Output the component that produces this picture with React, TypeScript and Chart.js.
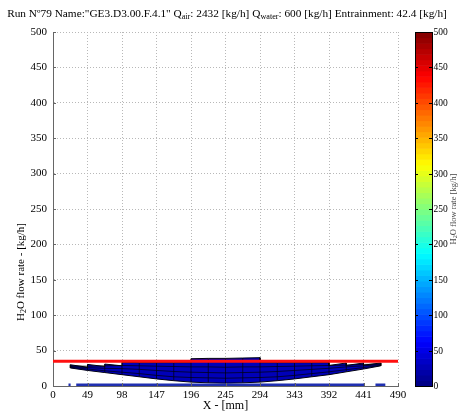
import React, { useEffect, useRef } from "react";
import { Chart, registerables } from "chart.js";

Chart.register(...registerables);

// ---- data ----
const xTicks = [0, 49, 98, 147, 196, 245, 294, 343, 392, 441, 490];
const yTicks = [0, 50, 100, 150, 200, 250, 300, 350, 400, 450, 500];
const colorbarTicks = [0, 50, 100, 150, 200, 250, 300, 350, 400, 450, 500];

const surfaceX = [24.5, 49, 73.5, 98, 122.5, 147, 171.5, 196, 220.5, 245, 269.5, 294, 318.5, 343, 367.5, 392, 416.5, 441, 465.5];
const surfaceBottom = [25.5, 22, 19, 16, 13, 10, 7.5, 5.5, 4.5, 4, 4.5, 5.5, 7.5, 10, 13, 16, 20, 24, 28.5];
const surfaceTopStart = [30, 30.5, 31, 33.5, 33, 33, 33, 38.5, 39, 39, 39.5, 33, 33, 33, 33, 29, 29, 29.5];
const surfaceTopEnd = [26.5, 27.5, 28.5, 33, 33, 33, 33, 39, 39, 39.5, 40, 33, 33, 33, 33, 32.5, 32.5, 32.5];
const meshRowA = [26.5, 24, 21.5, 19.5, 17.5, 15, 13, 12, 11.5, 11, 11.5, 12, 13, 15, 17.5, 20, 23, 26, 29];
const meshRowB = [27.5, 26, 25, 24.5, 23.5, 22, 20.5, 19.5, 19, 18.5, 19, 19.5, 20.5, 22, 23.5, 25, 27, 28.5, 30];
const meshRowC = [28.5, 28, 28.5, 29, 28.5, 28, 27.5, 27, 27, 26.5, 27, 27, 27.5, 28, 28.5, 29, 29.5, 30.5, 31];

const entrainmentX = [0, 490];
const entrainmentLevel = [35, 35];

const baseSegments = [[22, 25], [33, 443], [458, 472]];
const baseLevel = 1.5;

const titleParts = [
  { t: 'Run N\u00BA79 Name:"GE3.D3.00.F.4.1" Q', sub: false },
  { t: "air", sub: true },
  { t: ": 2432 [kg/h] Q", sub: false },
  { t: "water", sub: true },
  { t: ": 600 [kg/h] Entrainment: 42.4 [kg/h]", sub: false },
];

const SERIF = "'Liberation Serif', 'Times New Roman', serif";

function jet(t: number): string {
  const c = (v: number) => Math.round(255 * Math.max(0, Math.min(1, v)));
  const r = c(1.5 - Math.abs(4 * t - 3));
  const g = c(1.5 - Math.abs(4 * t - 2));
  const b = c(1.5 - Math.abs(4 * t - 1));
  return `rgb(${r},${g},${b})`;
}

function drawSubText(ctx: CanvasRenderingContext2D, parts: { t: string; sub: boolean }[], x: number, y: number, size: number, measureOnly = false): number {
  let cx = x;
  for (const p of parts) {
    const s = p.sub ? size * 0.72 : size;
    ctx.font = `${s}px ${SERIF}`;
    if (!measureOnly) ctx.fillText(p.t, cx, p.sub ? y + size * 0.28 : y);
    cx += ctx.measureText(p.t).width;
  }
  return cx - x;
}

const decorPlugin = {
  id: "decor",
  afterDraw(chart: any) {
    const ctx: CanvasRenderingContext2D = chart.ctx;
    const { top, bottom, left, right } = chart.chartArea;
    const ys = chart.scales.y;
    const xs = chart.scales.x;
    ctx.save();

    // inward tick marks on main axes
    ctx.strokeStyle = "#666";
    ctx.lineWidth = 1;
    for (const v of yTicks) {
      const py = Math.round(ys.getPixelForValue(v)) + 0.5;
      ctx.beginPath();
      ctx.moveTo(left, py);
      ctx.lineTo(left + 3, py);
      ctx.stroke();
    }
    for (const v of xTicks) {
      const px = Math.round(xs.getPixelForValue(v)) + 0.5;
      ctx.beginPath();
      ctx.moveTo(px, bottom);
      ctx.lineTo(px, bottom - 3);
      ctx.stroke();
    }

    // colorbar
    const cbL = right + 17;
    const cbW = 17;
    const n = 64;
    const vmax = colorbarTicks[colorbarTicks.length - 1];
    for (let i = 0; i < n; i++) {
      const p0 = ys.getPixelForValue((i / n) * vmax);
      const p1 = ys.getPixelForValue(((i + 1) / n) * vmax);
      ctx.fillStyle = jet((i + 0.5) / n);
      ctx.fillRect(cbL, p1, cbW, p0 - p1 + 0.6);
    }
    ctx.strokeStyle = "#000";
    ctx.strokeRect(cbL + 0.5, top + 0.5, cbW, bottom - top);
    ctx.fillStyle = "#000";
    ctx.font = `9.5px ${SERIF}`;
    ctx.textAlign = "left";
    ctx.textBaseline = "middle";
    for (const v of colorbarTicks) {
      const py = Math.round(ys.getPixelForValue(v)) + 0.5;
      ctx.beginPath();
      ctx.moveTo(cbL + cbW - 3, py);
      ctx.lineTo(cbL + cbW + 1, py);
      ctx.moveTo(cbL, py);
      ctx.lineTo(cbL + 3, py);
      ctx.stroke();
      ctx.fillText(String(v), cbL + cbW + 1.5, py);
    }

    // colorbar label
    ctx.save();
    ctx.translate(453.5, 209);
    ctx.rotate(-Math.PI / 2);
    ctx.fillStyle = "#444";
    ctx.textBaseline = "middle";
    const cbParts = [{ t: "H", sub: false }, { t: "2", sub: true }, { t: "O flow rate [kg/h]", sub: false }];
    const wcb = drawSubText(ctx, cbParts, 0, 0, 8.5, true);
    drawSubText(ctx, cbParts, -wcb / 2, 0, 8.5);
    ctx.restore();

    // y axis title
    ctx.save();
    ctx.translate(21, 272);
    ctx.rotate(-Math.PI / 2);
    ctx.fillStyle = "#000";
    ctx.textBaseline = "middle";
    const yParts = [{ t: "H", sub: false }, { t: "2", sub: true }, { t: "O flow rate - [kg/h]", sub: false }];
    const wy = drawSubText(ctx, yParts, 0, 0, 11, true);
    drawSubText(ctx, yParts, -wy / 2, 0, 11);
    ctx.restore();

    // title
    ctx.fillStyle = "#000";
    ctx.textBaseline = "middle";
    ctx.textAlign = "left";
    const target = 440;
    const w12 = drawSubText(ctx, titleParts, 0, 0, 12, true);
    const size = (12 * target) / w12;
    const wt = drawSubText(ctx, titleParts, 0, 0, size, true);
    drawSubText(ctx, titleParts, 227 - wt / 2, 14, size);

    ctx.restore();
  },
};

export default function App() {
  const ref = useRef<HTMLCanvasElement | null>(null);

  useEffect(() => {
    if (!ref.current) return;

    const surface: { x: number; y: number }[] = [];
    for (let i = 0; i < surfaceX.length - 1; i++) {
      surface.push({ x: surfaceX[i], y: surfaceTopStart[i] });
      surface.push({ x: surfaceX[i + 1], y: surfaceTopEnd[i] });
    }
    for (let j = surfaceX.length - 1; j >= 0; j--) surface.push({ x: surfaceX[j], y: surfaceBottom[j] });
    surface.push({ ...surface[0] });

    const verticals: { x: number; y: number | null }[] = [];
    for (let i = 0; i < surfaceX.length; i++) {
      const a = i < surfaceTopStart.length ? surfaceTopStart[i] : -Infinity;
      const b = i > 0 ? surfaceTopEnd[i - 1] : -Infinity;
      verticals.push({ x: surfaceX[i], y: surfaceBottom[i] });
      verticals.push({ x: surfaceX[i], y: Math.max(a, b) });
      verticals.push({ x: surfaceX[i], y: null });
    }

    const rows = [meshRowA, meshRowB, meshRowC].map((r) => r.map((v, i) => ({ x: surfaceX[i], y: v })));

    const base: { x: number; y: number | null }[] = [];
    for (const [a, b] of baseSegments) {
      base.push({ x: a, y: baseLevel }, { x: b, y: baseLevel }, { x: b, y: null });
    }

    const redLine = entrainmentX.map((x, i) => ({ x, y: entrainmentLevel[i] }));

    const meshStyle = { borderColor: "rgba(0,0,0,0.85)", borderWidth: 0.8, pointRadius: 0, fill: false, spanGaps: false, tension: 0 };

    const chart = new Chart(ref.current, {
      type: "line",
      data: {
        datasets: [
          { data: redLine as any, borderColor: "#ff1010", borderWidth: 3, pointRadius: 0, fill: false, order: 0 },
          { data: base as any, borderColor: "#1f2fb0", borderWidth: 3, pointRadius: 0, fill: false, spanGaps: false, order: 1 },
          { data: verticals as any, ...meshStyle, order: 2 },
          ...rows.map((r) => ({ data: r as any, ...meshStyle, order: 2 })),
          {
            data: surface as any,
            borderColor: "#000010",
            borderWidth: 1,
            backgroundColor: "#0000b8",
            fill: "shape",
            pointRadius: 0,
            tension: 0,
            order: 3,
          },
        ],
      },
      options: {
        animation: false,
        responsive: false,
        events: [],
        parsing: true,
        layout: { padding: { top: 32, right: 64, left: 0, bottom: 0 } },
        plugins: { legend: { display: false }, tooltip: { enabled: false }, title: { display: false } },
        scales: {
          x: {
            type: "linear",
            min: 0,
            max: 490,
            afterBuildTicks: (s: any) => {
              s.ticks = xTicks.map((v) => ({ value: v }));
            },
            afterFit: (s: any) => {
              s.height = 30;
            },
            ticks: { color: "#000", font: { family: SERIF, size: 11 }, padding: 3, maxRotation: 0, autoSkip: false },
            grid: { color: "#b8b8b8", drawTicks: false, lineWidth: 1 },
            border: { display: true, color: "#666", dash: [1, 2] },
            title: { display: true, text: "X - [mm]", color: "#000", font: { family: SERIF, size: 12 }, padding: { top: 0, bottom: 3 } },
          },
          y: {
            type: "linear",
            min: 0,
            max: 500,
            afterBuildTicks: (s: any) => {
              s.ticks = yTicks.map((v) => ({ value: v }));
            },
            afterFit: (s: any) => {
              s.width = 53;
            },
            ticks: { color: "#000", font: { family: SERIF, size: 11 }, padding: 6, autoSkip: false },
            grid: { color: "#b8b8b8", drawTicks: false, lineWidth: 1 },
            border: { display: true, color: "#666", dash: [1, 2] },
          },
        },
      },
      plugins: [decorPlugin],
    } as any);

    return () => chart.destroy();
  }, []);

  return (
    <div style={{ position: "absolute", left: 0, top: 0, width: 462, height: 416, background: "#fff" }}>
      <canvas ref={ref} width={462} height={416} style={{ display: "block" }} />
    </div>
  );
}
